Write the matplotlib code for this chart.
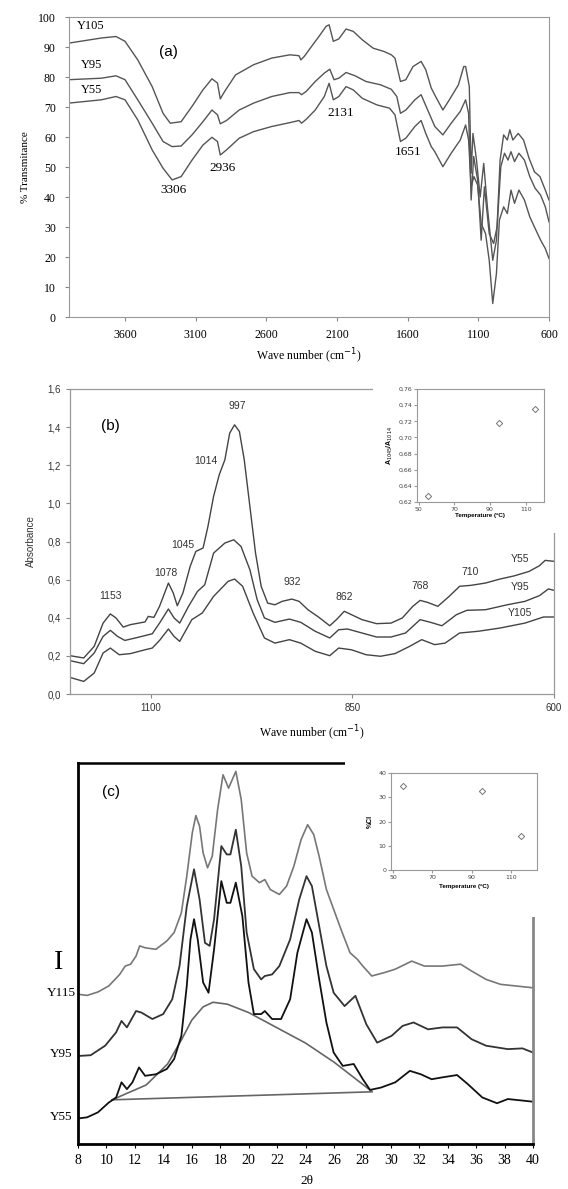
import matplotlib
matplotlib.use("Agg")
import matplotlib.pyplot as plt
from matplotlib.patches import Rectangle

SERIF = "Liberation Serif"
SANS = "Liberation Sans"

# ---- panel (a): FTIR transmittance ----
a_wn_y105 = [3997, 3767, 3664, 3600, 3510, 3408, 3331, 3280, 3203, 3126,
             3049, 2985, 2946, 2926, 2895, 2818, 2690, 2562, 2433, 2369,
             2356, 2331, 2280, 2228, 2177, 2156, 2126, 2087, 2036, 1985,
             1921, 1844, 1767, 1716, 1690, 1651, 1613, 1562, 1505, 1472,
             1433, 1408, 1351, 1305, 1241, 1203, 1190, 1164, 1151, 1138,
             1113, 1087, 1062, 1036, 998, 972, 946, 921, 895, 877,
             856, 818, 780, 741, 703, 664, 626, 600]
a_y105 = [91.3, 93.0, 93.5, 91.9, 85.7, 76.8, 67.9, 64.6, 65.1, 70.2,
          75.7, 79.4, 78.0, 72.7, 75.2, 80.7, 84.1, 86.3, 87.4, 87.1,
          85.7, 86.9, 90.2, 93.5, 96.9, 97.4, 91.9, 92.7, 96.0, 95.2,
          92.4, 89.6, 88.5, 87.4, 86.3, 78.5, 79.1, 83.5, 85.2, 82.4,
          76.3, 74.0, 69.0, 72.4, 77.4, 83.5, 83.5, 76.8, 47.9, 61.2,
          52.3, 40.0, 51.2, 36.7, 18.9, 25.6, 52.3, 60.7, 59.0, 62.4,
          59.0, 61.2, 59.0, 52.9, 48.4, 46.8, 42.3, 39.0]

a_wn_y95 = [3997, 3767, 3664, 3600, 3510, 3408, 3331, 3267, 3203, 3126,
            3049, 2985, 2946, 2926, 2882, 2792, 2690, 2562, 2433, 2369,
            2351, 2318, 2254, 2190, 2151, 2121, 2087, 2036, 1972, 1895,
            1792, 1716, 1677, 1651, 1613, 1549, 1505, 1464, 1408, 1351,
            1292, 1228, 1190, 1169, 1151, 1133, 1105, 1080, 1057, 1023,
            992, 967, 941, 915, 890, 869, 844, 813, 774, 736,
            698, 659, 626, 600]
a_y95 = [79.1, 79.6, 80.4, 79.1, 72.4, 64.6, 58.5, 56.8, 57.0, 60.7,
         65.1, 69.0, 67.4, 64.4, 65.5, 69.0, 71.3, 73.5, 74.8, 74.8,
         74.1, 75.2, 78.5, 81.3, 82.6, 79.1, 79.6, 81.5, 80.4, 78.5,
         77.4, 75.9, 73.5, 67.9, 69.0, 72.4, 74.1, 69.6, 63.5, 60.7,
         64.6, 68.5, 72.4, 67.9, 39.0, 53.5, 45.7, 25.6, 43.4, 27.8,
         24.5, 30.1, 50.1, 54.6, 52.3, 55.1, 51.8, 54.6, 52.3, 46.8,
         42.9, 40.6, 36.7, 31.7]

a_wn_y55 = [3997, 3767, 3664, 3600, 3510, 3408, 3331, 3267, 3203, 3126,
            3049, 2985, 2946, 2926, 2882, 2792, 2690, 2562, 2433, 2369,
            2351, 2318, 2254, 2190, 2156, 2126, 2087, 2036, 1985, 1921,
            1818, 1728, 1690, 1651, 1613, 1549, 1505, 1472, 1433, 1408,
            1351, 1292, 1228, 1190, 1169, 1151, 1131, 1105, 1080, 1049,
            1023, 998, 972, 951, 921, 895, 869, 844, 813, 774,
            736, 698, 659, 626, 600]
a_y55 = [71.3, 72.4, 73.5, 72.4, 65.7, 55.7, 49.6, 45.7, 46.8, 52.3,
         57.3, 59.9, 58.5, 54.0, 55.7, 59.6, 61.8, 63.5, 64.8, 65.5,
         64.6, 65.9, 69.0, 73.5, 77.9, 72.4, 73.5, 76.8, 75.7, 72.9,
         70.7, 69.6, 67.4, 58.5, 59.6, 63.5, 65.5, 61.2, 56.8, 55.1,
         50.1, 54.6, 59.0, 64.0, 59.0, 43.4, 46.8, 44.0, 31.2, 27.8,
         18.9, 4.5, 14.5, 32.3, 36.7, 34.5, 42.3, 37.9, 42.3, 39.0,
         33.4, 29.5, 25.6, 22.8, 19.5]

a_peaks = ["3306", "2936", "2131", "1651"]
a_peak_pos = [(3254, 42.3), (2908, 49.6), (2077, 68.0), (1600, 55.0)]
a_xticks = [3600, 3100, 2600, 2100, 1600, 1100, 600]

# ---- panel (b): ATR absorbance ----
b_wn_y55 = [1200, 1183, 1170, 1159, 1150, 1143, 1134, 1125, 1107, 1103,
            1096, 1089, 1078, 1072, 1067, 1060, 1051, 1044, 1035, 1029,
            1022, 1015, 1008, 1002, 996, 990, 984, 977, 970, 963,
            955, 946, 937, 925, 916, 905, 892, 878, 869, 860,
            851, 838, 820, 802, 788, 775, 766, 757, 744, 730,
            717, 703, 685, 667, 649, 631, 618, 611, 600]
b_y55 = [0.201, 0.189, 0.25, 0.372, 0.42, 0.399, 0.351, 0.364, 0.378, 0.407,
         0.402, 0.46, 0.582, 0.53, 0.463, 0.53, 0.67, 0.748, 0.766, 0.879,
         1.037, 1.15, 1.229, 1.369, 1.412, 1.377, 1.229, 0.984, 0.739, 0.565,
         0.477, 0.468, 0.486, 0.498, 0.486, 0.442, 0.404, 0.358, 0.393, 0.434,
         0.416, 0.39, 0.369, 0.372, 0.399, 0.46, 0.491, 0.481, 0.46, 0.512,
         0.565, 0.57, 0.582, 0.603, 0.62, 0.643, 0.673, 0.701, 0.696]

b_wn_y95 = [1200, 1183, 1170, 1159, 1150, 1141, 1132, 1116, 1098, 1089,
            1078, 1071, 1064, 1053, 1042, 1033, 1022, 1008, 997, 988,
            977, 968, 959, 946, 928, 914, 896, 878, 867, 856,
            838, 820, 802, 784, 766, 753, 739, 721, 708, 685,
            658, 636, 618, 607, 600]
b_y95 = [0.175, 0.159, 0.215, 0.302, 0.334, 0.302, 0.281, 0.297, 0.316, 0.372,
         0.446, 0.399, 0.372, 0.46, 0.538, 0.573, 0.739, 0.792, 0.809, 0.774,
         0.652, 0.495, 0.399, 0.376, 0.393, 0.376, 0.329, 0.294, 0.337, 0.341,
         0.32, 0.299, 0.299, 0.32, 0.39, 0.376, 0.358, 0.416, 0.439, 0.442,
         0.468, 0.486, 0.516, 0.551, 0.544]

b_wn_y105 = [1200, 1183, 1170, 1159, 1150, 1139, 1125, 1107, 1098, 1089,
             1078, 1071, 1064, 1049, 1036, 1022, 1004, 996, 986, 973,
             959, 946, 928, 914, 896, 878, 867, 851, 833, 815,
             797, 779, 764, 748, 735, 717, 694, 667, 636, 613, 600]
b_y105 = [0.087, 0.066, 0.11, 0.215, 0.241, 0.206, 0.212, 0.232, 0.241, 0.281,
          0.341, 0.302, 0.276, 0.39, 0.425, 0.512, 0.591, 0.603, 0.565, 0.425,
          0.294, 0.267, 0.285, 0.267, 0.224, 0.201, 0.241, 0.232, 0.206, 0.198,
          0.212, 0.25, 0.285, 0.259, 0.267, 0.32, 0.329, 0.346, 0.372, 0.404, 0.404]

b_peaks = ["997", "1014", "1045", "1078", "1153", "932", "862", "768", "710"]
b_peak_pos = [(993, 1.509), (1031, 1.22), (1060, 0.78), (1081, 0.635), (1150, 0.516),
              (925, 0.587), (860, 0.509), (766, 0.565), (704, 0.64)]

# inset (b): absorbance ratio vs temperature
temp = [55, 95, 115]
ratio = [0.627, 0.718, 0.735]

# ---- panel (c): XRD ----
c_tt_y115 = [8.0, 8.64, 9.4, 10.17, 10.93, 11.32, 11.7, 12.08, 12.34, 12.72,
             13.48, 14.25, 14.76, 15.27, 15.65, 16.04, 16.29, 16.55, 16.8, 17.11,
             17.44, 17.82, 18.2, 18.59, 19.1, 19.48, 19.86, 20.24, 20.76, 21.14,
             21.52, 22.16, 22.67, 23.18, 23.69, 24.15, 24.58, 24.96, 25.47, 25.98,
             26.5, 27.13, 27.64, 28.03, 28.66, 29.56, 30.32, 31.47, 32.36, 33.64,
             34.91, 35.68, 36.7, 37.72, 38.74, 40.0]
c_y115 = [39.3, 39.0, 39.9, 41.5, 44.5, 46.7, 47.2, 49.3, 52.0, 51.5,
          51.1, 53.3, 55.5, 60.7, 70.3, 81.7, 86.2, 83.4, 76.4, 72.5,
          75.5, 87.8, 96.9, 93.4, 97.8, 90.4, 76.4, 70.3, 68.6, 69.4,
          66.8, 65.5, 67.7, 72.9, 79.9, 83.8, 81.2, 75.5, 66.8, 61.6,
          56.3, 50.2, 48.5, 46.7, 44.1, 45.0, 45.9, 48.0, 46.7, 46.7,
          47.2, 45.4, 43.2, 41.9, 41.5, 41.0]

c_tt_y95 = [8.0, 8.89, 9.91, 10.68, 11.06, 11.44, 12.08, 12.46, 13.23, 13.99,
            14.63, 15.14, 15.65, 16.16, 16.55, 16.93, 17.26, 17.57, 18.08, 18.46,
            18.72, 19.1, 19.48, 19.86, 20.37, 20.88, 21.14, 21.65, 22.16, 22.92,
            23.56, 24.07, 24.45, 24.96, 25.47, 25.98, 26.75, 27.51, 28.28, 29.04,
            30.06, 30.83, 31.6, 32.62, 33.64, 34.66, 35.68, 36.7, 38.23, 39.26, 40.0]
c_y95 = [23.1, 23.3, 25.8, 29.3, 32.3, 30.6, 34.9, 34.5, 32.8, 34.1,
         38.0, 46.7, 62.4, 72.1, 64.2, 52.8, 52.0, 59.0, 78.2, 76.0,
         76.0, 82.5, 72.9, 55.5, 45.9, 43.2, 44.1, 44.5, 46.7, 53.7,
         64.2, 70.3, 67.7, 57.2, 46.7, 39.7, 36.2, 38.9, 31.4, 26.6,
         28.4, 31.0, 31.9, 30.1, 30.6, 30.6, 27.5, 25.8, 24.9, 25.1, 24.0]

c_tt_y55 = [8.0, 8.64, 9.4, 10.17, 10.68, 11.06, 11.44, 11.83, 12.29, 12.72,
            13.48, 14.25, 14.76, 15.27, 15.65, 15.91, 16.16, 16.42, 16.8, 17.18,
            17.57, 18.08, 18.46, 18.72, 19.1, 19.56, 19.99, 20.37, 20.88, 21.14,
            21.65, 22.28, 22.92, 23.43, 24.07, 24.45, 24.96, 25.47, 25.98, 26.62,
            27.39, 28.03, 28.54, 29.3, 30.32, 31.34, 32.11, 32.87, 33.64, 34.66,
            35.42, 36.44, 37.47, 38.23, 39.26, 40.0]
c_y55 = [6.7, 7.0, 8.3, 10.9, 12.2, 16.2, 14.4, 16.2, 20.1, 17.9,
         18.3, 19.7, 22.3, 28.4, 41.5, 53.7, 59.0, 53.7, 42.4, 39.7,
         51.1, 69.0, 63.3, 63.3, 68.6, 59.8, 42.4, 34.1, 34.1, 34.9,
         32.8, 32.8, 38.0, 50.2, 59.0, 55.5, 43.2, 31.9, 24.0, 20.5,
         21.0, 17.0, 14.2, 14.8, 16.2, 19.2, 18.3, 17.0, 17.5, 18.1,
         15.7, 12.2, 10.7, 11.8, 11.4, 11.1]

# amorphous halo drawn under Y55, closed by a straight baseline
halo_tt = [10.4, 12.8, 14.3, 15.3, 16.0, 16.8, 17.5, 18.5, 20.0, 22.0, 24.0, 26.0, 28.7, 10.4]
halo_y = [11.6, 15.5, 21.0, 27.5, 32.5, 36.0, 37.2, 36.7, 34.5, 30.5, 26.5, 21.5, 13.7, 11.6]

# inset (c): crystallinity vs temperature
ci = [34.5, 32.5, 14.0]

W, H = 568, 1189
fig = plt.figure(figsize=(W / 100, H / 100), dpi=100)


def fbox(x0, y0, x1, y1):
    # pixel box -> figure fraction [left, bottom, width, height]
    return [x0 / W, 1 - y1 / H, (x1 - x0) / W, (y1 - y0) / H]


# ================= (a) =================
ax = fig.add_axes(fbox(68.5, 17, 549, 317))
for wn, v in [(a_wn_y105, a_y105), (a_wn_y95, a_y95), (a_wn_y55, a_y55)]:
    ax.plot(wn, v, color="#555555", lw=1.0)
ax.set_xlim(4000, 600)
ax.set_ylim(0, 100)
ax.set_xticks(a_xticks)
ax.set_yticks(range(0, 101, 10))
for lab in ax.get_xticklabels() + ax.get_yticklabels():
    lab.set_fontfamily(SERIF)
ax.tick_params(labelsize=8.5, length=3, color="#888888", pad=6)
for s in ax.spines.values():
    s.set_color("#999999")
    s.set_linewidth(0.8)
ax.set_xlabel("Wave number (cm$^{-1}$)", fontfamily=SERIF, fontsize=8.5, labelpad=4)
ax.set_ylabel("% Transmitance", fontfamily=SERIF, fontsize=8, labelpad=6)
ax.text(3292, 88.3, "(a)", fontfamily=SANS, fontsize=11, ha="center", va="center")
for name, y in [("Y105", 97.0), ("Y95", 84.0), ("Y55", 75.7)]:
    ax.text(3840, y, name, fontfamily=SERIF, fontsize=9, ha="center", va="center")
for lab, (x, y) in zip(a_peaks, a_peak_pos):
    ax.text(x, y, lab, fontfamily=SERIF, fontsize=9.5, ha="center", va="center")

# ================= (b) =================
bx = fig.add_axes(fbox(70, 389, 554, 694))
for wn, v in [(b_wn_y55, b_y55), (b_wn_y95, b_y95), (b_wn_y105, b_y105)]:
    bx.plot(wn, v, color="#444444", lw=1.0)
bx.set_xlim(1200, 600)
bx.set_ylim(0, 1.6)
bx.set_xticks([1100, 850, 600])
bx.set_yticks([i * 0.2 for i in range(9)])
bx.set_yticklabels([f"{i * 0.2:.1f}".replace(".", ",") for i in range(9)])
for lab in bx.get_xticklabels() + bx.get_yticklabels():
    lab.set_fontfamily(SANS)
bx.tick_params(labelsize=7, length=3, color="#888888", labelcolor="#333333")
for s in bx.spines.values():
    s.set_color("#999999")
    s.set_linewidth(0.9)
bx.set_xlabel("Wave number (cm$^{-1}$)", fontfamily=SERIF, fontsize=8.5, labelpad=8)
bx.set_ylabel("Absorbance", fontfamily=SANS, fontsize=7, color="#333333", labelpad=8)
bx.text(1150, 1.404, "(b)", fontfamily=SANS, fontsize=11, ha="center", va="center")
for lab, (x, y) in zip(b_peaks, b_peak_pos):
    bx.text(x, y, lab, fontfamily=SANS, fontsize=7.5, color="#333333", ha="center", va="center")
for name, y in [("Y55", 0.708), ("Y95", 0.559), ("Y105", 0.425)]:
    bx.text(642, y, name, fontfamily=SANS, fontsize=7.5, color="#333333", ha="center", va="center")

fig.patches.append(Rectangle((373 / W, 1 - 533 / H), 190 / W, 150 / H,
                             transform=fig.transFigure, facecolor="white",
                             edgecolor="none", zorder=1))

ib = fig.add_axes(fbox(417, 389, 543.5, 502))
ib.set_zorder(2)
ib.scatter(temp, ratio, marker="D", s=10, facecolor="white", edgecolor="#777777", linewidth=0.7)
ib.set_xlim(49, 120)
ib.set_ylim(0.62, 0.76)
ib.set_xticks([50, 70, 90, 110])
ib.set_yticks([0.62 + 0.02 * i for i in range(8)])
ib.set_yticklabels([f"{0.62 + 0.02 * i:.2f}".replace(".", ",") for i in range(8)])
ib.tick_params(labelsize=4.5, length=2, pad=1.5, color="#999999", labelcolor="#444444")
for s in ib.spines.values():
    s.set_color("#999999")
    s.set_linewidth(0.8)
ib.set_xlabel("Temperature (ºC)", fontfamily=SANS, fontsize=4.5, fontweight="bold", labelpad=1)
ib.set_ylabel("A$_{1045}$/A$_{1014}$", fontfamily=SANS, fontsize=5, fontweight="bold", labelpad=2)

# ================= (c) =================
cx = fig.add_axes(fbox(78, 763, 533, 1144))
cx.plot(halo_tt, halo_y, color="#666666", lw=1.2)
cx.plot(c_tt_y115, c_y115, color="#777777", lw=1.2)
cx.plot(c_tt_y95, c_y95, color="#333333", lw=1.3)
cx.plot(c_tt_y55, c_y55, color="#111111", lw=1.3)
cx.set_xlim(8, 40)
cx.set_ylim(0, 100)
cx.set_xticks(range(8, 41, 2))
cx.set_yticks([])
for lab in cx.get_xticklabels():
    lab.set_fontfamily(SERIF)
cx.tick_params(axis="x", labelsize=10, length=3, pad=4)
cx.spines["left"].set_linewidth(2)
cx.spines["bottom"].set_linewidth(2)
cx.spines["top"].set_linewidth(1.8)
cx.spines["right"].set_linewidth(2)
cx.spines["right"].set_color("#888888")
cx.text(10.3, 92.3, "(c)", fontfamily=SANS, fontsize=11, ha="center", va="center")
cx.text(6.6, 47.6, "I", fontfamily=SERIF, fontsize=20, ha="center", va="center", clip_on=False)
for name, y in [("Y115", 39.7), ("Y95", 23.6), ("Y55", 7.0)]:
    cx.text(6.85, y, name, fontfamily=SERIF, fontsize=9.5, ha="center", va="center", clip_on=False)
fig.text(307 / W, 1 - 1181 / H, "2θ", fontfamily=SERIF, fontsize=9.5, ha="center", va="center")

fig.patches.append(Rectangle((345 / W, 1 - 917 / H), 205 / W, 162 / H,
                             transform=fig.transFigure, facecolor="white",
                             edgecolor="none", zorder=1))

ic = fig.add_axes(fbox(391, 773, 537, 870))
ic.set_zorder(2)
ic.scatter(temp, ci, marker="D", s=10, facecolor="white", edgecolor="#777777", linewidth=0.7)
ic.set_xlim(49, 123)
ic.set_ylim(0, 40)
ic.set_xticks([50, 70, 90, 110])
ic.set_yticks([0, 10, 20, 30, 40])
ic.tick_params(labelsize=4.5, length=2, pad=1.5, color="#999999", labelcolor="#444444")
for s in ic.spines.values():
    s.set_color("#999999")
    s.set_linewidth(0.8)
ic.set_xlabel("Temperature (ºC)", fontfamily=SANS, fontsize=4.5, fontweight="bold", labelpad=3)
ic.set_ylabel("%CI", fontfamily=SANS, fontsize=5, fontweight="bold", labelpad=3)

fig.savefig("out.png", dpi=100)
